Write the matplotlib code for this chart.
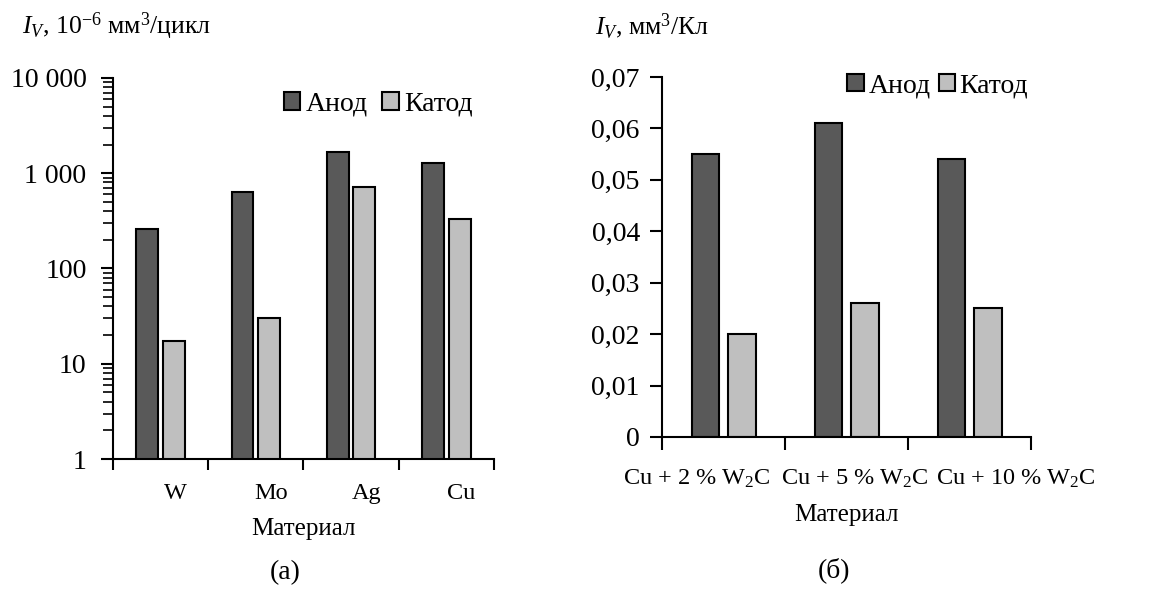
import numpy as np
import matplotlib
matplotlib.use("Agg")
import matplotlib.pyplot as plt

plt.rcParams['font.family'] = ['Liberation Serif', 'DejaVu Serif']
plt.rcParams['mathtext.fontset'] = 'custom'
plt.rcParams['mathtext.rm'] = 'Liberation Serif'
plt.rcParams['mathtext.it'] = 'Liberation Serif:italic'

# (a) pure metals, 10^-6 mm3/cycle
metals = ["W", "Mo", "Ag", "Cu"]
anode_a = [260, 630, 1660, 1270]
cathode_a = [17.5, 30, 710, 330]
yticks_a = [1, 10, 100, 1000, 10000]
yticklabels_a = ["1", "10", "100", "1 000", "10 000"]

# (б) Cu + W2C composites, mm3/C
composites = ["Cu + 2 % W$_2$C", "Cu + 5 % W$_2$C", "Cu + 10 % W$_2$C"]
anode_b = [0.055, 0.061, 0.054]
cathode_b = [0.020, 0.026, 0.025]
yticks_b = [0, 0.01, 0.02, 0.03, 0.04, 0.05, 0.06, 0.07]
yticklabels_b = ["0", "0,01", "0,02", "0,03", "0,04", "0,05", "0,06", "0,07"]

series_names = ["Анод", "Катод"]
dark = "#595959"
light = "#bfbfbf"

fig = plt.figure(figsize=(11.59, 5.89), dpi=100)
ax1 = fig.add_axes([0.0975, 0.2207, 0.3287, 0.6469])
ax2 = fig.add_axes([0.5712, 0.2581, 0.3184, 0.6112])


def style_axes(ax, pad):
    ax.spines['top'].set_visible(False)
    ax.spines['right'].set_visible(False)
    ax.spines['left'].set_linewidth(1.5)
    ax.spines['bottom'].set_linewidth(1.5)
    ax.tick_params(axis='y', which='major', direction='out', length=9, width=1.5, labelsize=20, pad=pad)
    ax.tick_params(axis='y', which='minor', direction='out', length=7, width=1.2)


# --- panel (a) ---
x = np.arange(len(metals))
w = 0.23
ax1.bar(x - 0.14, anode_a, w, color=dark, edgecolor="black", linewidth=1.5, label=series_names[0])
ax1.bar(x + 0.14, cathode_a, w, color=light, edgecolor="black", linewidth=1.5, label=series_names[1])
ax1.set_yscale('log')
ax1.set_ylim(1, 10000)
ax1.set_xlim(-0.5, len(metals) - 0.5)
ax1.set_yticks(yticks_a)
ax1.set_yticklabels(yticklabels_a)
style_axes(ax1, 10)
ax1.set_xticks(np.arange(len(metals) + 1) - 0.5)
ax1.set_xticklabels([])
ax1.tick_params(axis='x', which='major', direction='out', length=8, width=1.5)
ax1.set_xticks(x + 0.16, minor=True)
ax1.set_xticklabels(metals, minor=True)
ax1.tick_params(axis='x', which='minor', length=0, labelsize=17.5, pad=17)
ax1.set_xlabel("Материал", fontsize=18, labelpad=10)
ax1.legend(loc='upper right', bbox_to_anchor=(1.01, 1.03), frameon=False, fontsize=20,
           handlelength=0.6, handleheight=0.6, handletextpad=0.2, columnspacing=0.5, ncol=2)

# --- panel (б) ---
xb = np.arange(len(composites))
wb = 0.22
ax2.bar(xb - 0.15, anode_b, wb, color=dark, edgecolor="black", linewidth=1.5, label=series_names[0])
ax2.bar(xb + 0.15, cathode_b, wb, color=light, edgecolor="black", linewidth=1.5, label=series_names[1])
ax2.set_ylim(0, 0.07)
ax2.set_xlim(-0.5, len(composites) - 0.5)
ax2.set_yticks(yticks_b)
ax2.set_yticklabels(yticklabels_b)
style_axes(ax2, 7)
ax2.set_xticks(np.arange(len(composites) + 1) - 0.5)
ax2.set_xticklabels([])
ax2.tick_params(axis='x', which='major', direction='out', length=9, width=1.5)
label_shift = [-0.215, 0.069, 0.378]
ax2.set_xticks(xb + np.array(label_shift), minor=True)
ax2.set_xticklabels(composites, minor=True)
ax2.tick_params(axis='x', which='minor', length=0, labelsize=17.5, pad=22)
ax2.set_xlabel("Материал", fontsize=18, labelpad=10)
ax2.legend(loc='upper right', bbox_to_anchor=(1.06, 1.08), frameon=False, fontsize=20,
           handlelength=0.6, handleheight=0.6, handletextpad=0.15, columnspacing=0.3, ncol=2)

# axis titles and panel captions
fig.text(0.019, 0.955, r"$I_V$, 10$^{-6}$ мм$^3$/цикл", fontsize=18.5, va='center', ha='left')
fig.text(0.513, 0.955, r"$I_V$, мм$^3$/Кл", fontsize=18.5, va='center', ha='left')
fig.text(0.246, 0.027, "(a)", fontsize=20, va='center', ha='center')
fig.text(0.720, 0.032, "(б)", fontsize=20, va='center', ha='center')

fig.savefig("out.png", dpi=100)
